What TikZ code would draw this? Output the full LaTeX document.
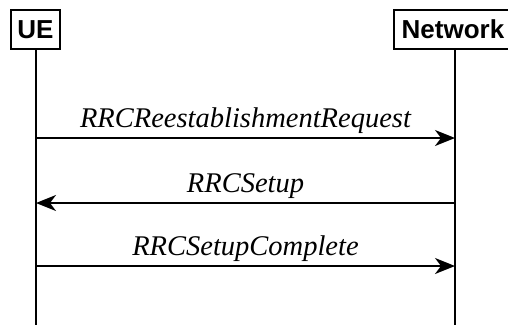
\documentclass[tikz,border=0pt]{standalone}
\usepackage{fontspec}
\setmainfont{Liberation Serif}
\setsansfont{Liberation Sans}
\usetikzlibrary{arrows.meta,positioning,calc}

\begin{document}
\begin{tikzpicture}[x=1pt,y=-1pt,>={Stealth[length=20pt,width=16pt,inset=6pt]},
    entity/.style={draw,line width=1.9pt,fill=white,inner sep=0pt,minimum height=39pt,
      font=\sffamily\bfseries\fontsize{26}{26}\selectfont},
    lifeline/.style={line width=1.9pt},
    msg/.style={->,line width=1.9pt},
    msglabel/.style={midway,anchor=base,yshift=11pt,font=\itshape\fontsize{28.5}{28.5}\selectfont}]
    \useasboundingbox (0,0) rectangle (508,325);
    % entities and lifelines
    \coordinate (uebot) at (36,325);
    \coordinate (nwbot) at (455,325);
    \draw[lifeline] (36,49) -- (uebot);
    \draw[lifeline] (455,49) -- (nwbot);
    \node[entity,minimum width=49pt] (ue) at (35.5,29.5) {UE};
    \node[entity,minimum width=118pt] (nw) at (453,29.5) {Network};
    % messages
    \coordinate (m1) at (0,138);
    \coordinate (m2) at (0,203);
    \coordinate (m3) at (0,266);
    \draw[msg] (uebot |- m1) -- (nwbot |- m1) node[msglabel] (l1) {RRCReestablishmentRequest};
    \draw[msg] (nwbot |- m2) -- (uebot |- m2) node[msglabel] (l2) {RRCSetup};
    \draw[msg] (uebot |- m3) -- (nwbot |- m3) node[msglabel] (l3) {RRCSetupComplete};
\end{tikzpicture}
\end{document}
